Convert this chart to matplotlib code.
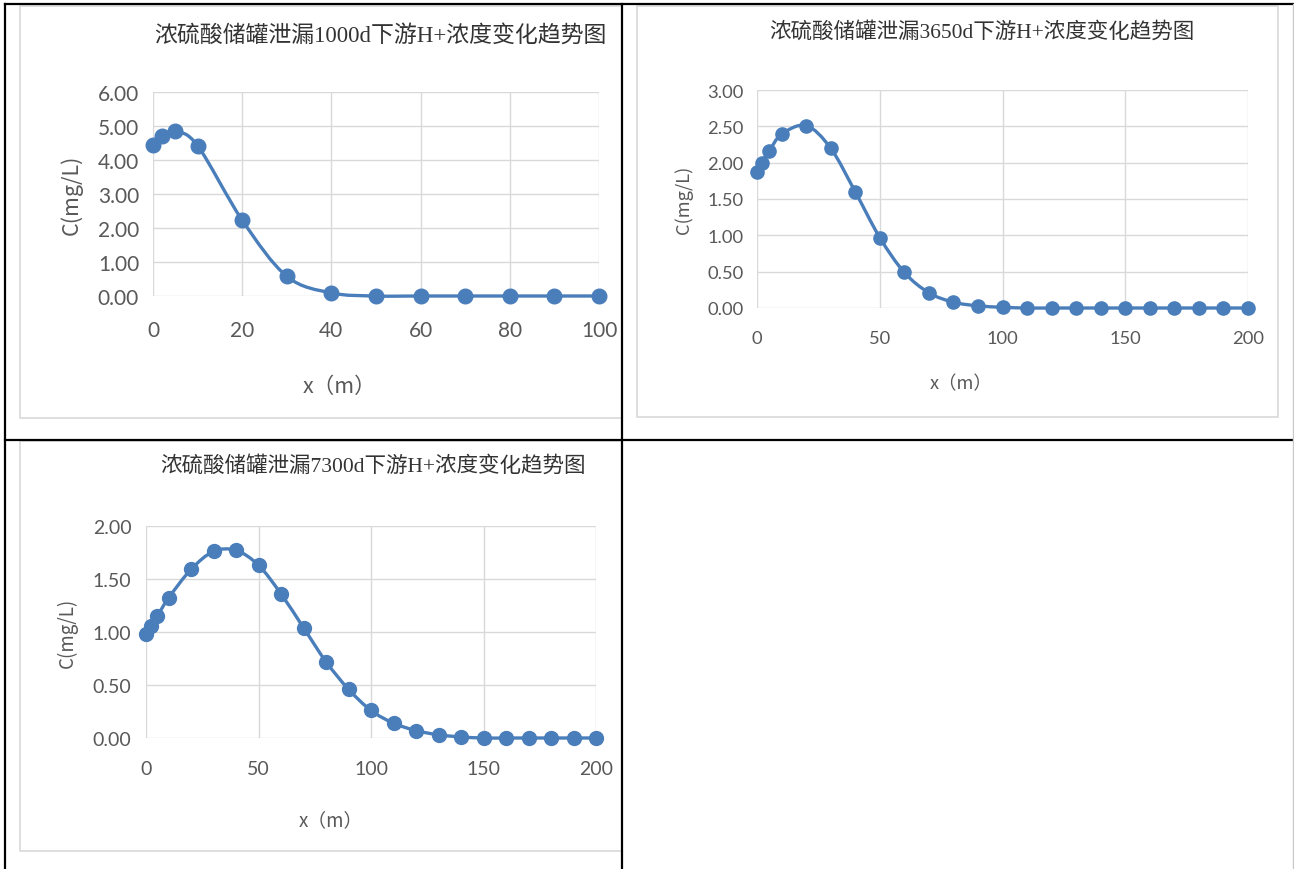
import matplotlib
matplotlib.use("Agg")
import matplotlib.pyplot as plt
from matplotlib.path import Path
from matplotlib.patches import PathPatch, Rectangle
from matplotlib.lines import Line2D

# ---- data ----
x_1000 = [0, 2, 5, 10, 20, 30, 40, 50, 60, 70, 80, 90, 100]
c_1000 = [4.45, 4.70, 4.84, 4.42, 2.23, 0.58, 0.09, 0.00, 0.00, 0.00, 0.00, 0.00, 0.00]

x_3650 = [0, 2, 5, 10, 20, 30, 40, 50, 60, 70, 80, 90, 100,
          110, 120, 130, 140, 150, 160, 170, 180, 190, 200]
c_3650 = [1.87, 2.00, 2.16, 2.39, 2.51, 2.20, 1.60, 0.97, 0.49, 0.21, 0.08, 0.03, 0.01,
          0.00, 0.00, 0.00, 0.00, 0.00, 0.00, 0.00, 0.00, 0.00, 0.00]

x_7300 = [0, 2, 5, 10, 20, 30, 40, 50, 60, 70, 80, 90, 100,
          110, 120, 130, 140, 150, 160, 170, 180, 190, 200]
c_7300 = [0.98, 1.06, 1.15, 1.32, 1.59, 1.76, 1.77, 1.63, 1.36, 1.04, 0.72, 0.46, 0.26,
          0.14, 0.07, 0.03, 0.01, 0.00, 0.00, 0.00, 0.00, 0.00, 0.00]

titles = ["浓硫酸储罐泄漏1000d下游H+浓度变化趋势图",
          "浓硫酸储罐泄漏3650d下游H+浓度变化趋势图",
          "浓硫酸储罐泄漏7300d下游H+浓度变化趋势图"]
y_label = "C(mg/L)"
x_label = "x（m）"

W, H = 1294, 870
fig = plt.figure(figsize=(W / 100, H / 100), dpi=100)
fig.patch.set_facecolor("white")

BLUE = "#4a7ebb"
GRID = "#d9d9d9"
TXT = "#595959"
TITLE_FONT = ["Liberation Serif", "Noto Sans CJK SC"]
LABEL_FONT = ["Noto Sans CJK SC", "DejaVu Sans"]
TICK_FONT = ["Lato", "DejaVu Sans"]


def fx(px):
    return px / W


def fy(py):
    return 1 - py / H


def smooth_path(xs, ys):
    """Bezier path through the points (Catmull-Rom style smoothing)."""
    n = len(xs)
    verts = [(xs[0], ys[0])]
    codes = [Path.MOVETO]
    for i in range(n - 1):
        x0, y0 = xs[max(i - 1, 0)], ys[max(i - 1, 0)]
        x1, y1 = xs[i], ys[i]
        x2, y2 = xs[i + 1], ys[i + 1]
        x3, y3 = xs[min(i + 2, n - 1)], ys[min(i + 2, n - 1)]
        c1 = (x1 + (x2 - x0) / 6, y1 + (y2 - y0) / 6)
        c2 = (x2 - (x3 - x1) / 6, y2 - (y3 - y1) / 6)
        verts += [c1, c2, (x2, y2)]
        codes += [Path.CURVE4] * 3
    return Path(verts, codes)


def panel(box, plot, xs, ys, xmax, xstep, ymax, ystep, title, title_pos,
          ylab_pos, xlab_pos, fs_title, fs_tick, fs_label, ms, ypad, xpad):
    # chart frame
    bl, bt, br, bb = box
    fig.add_artist(Rectangle((fx(bl), fy(bb)), fx(br - bl), (bb - bt) / H,
                             transform=fig.transFigure, fill=False,
                             edgecolor=GRID, linewidth=1.2))
    l, t, r, b = plot
    ax = fig.add_axes([fx(l), fy(b), fx(r - l), (b - t) / H])
    ax.set_xlim(0, xmax)
    ax.set_ylim(0, ymax)
    xt = list(range(0, xmax + 1, xstep))
    ax.set_xticks(xt)
    ax.set_xticklabels([str(v) for v in xt])
    nyt = int(round(ymax / ystep))
    yt = [i * ystep for i in range(nyt + 1)]
    ax.set_yticks(yt)
    ax.set_yticklabels([f"{v:.2f}" for v in yt])
    for s in ax.spines.values():
        s.set_visible(False)
    ax.grid(True, color=GRID, linewidth=1.0)
    ax.set_axisbelow(True)
    ax.tick_params(length=0, colors=TXT, labelsize=fs_tick)
    ax.tick_params(axis="y", pad=ypad)
    ax.tick_params(axis="x", pad=xpad)
    for lab in ax.get_xticklabels() + ax.get_yticklabels():
        lab.set_family(TICK_FONT)
    ax.add_patch(PathPatch(smooth_path(xs, ys), fill=False, edgecolor=BLUE,
                           linewidth=2.4, clip_on=False, zorder=3))
    ax.plot(xs, ys, linestyle="none", marker="o", markersize=ms, color=BLUE,
            clip_on=False, zorder=4)
    fig.text(fx(title_pos[0]), fy(title_pos[1]), title, ha="center", va="center",
             fontsize=fs_title, color="#333333", family=TITLE_FONT)
    fig.text(fx(ylab_pos[0]), fy(ylab_pos[1]), y_label, ha="center", va="center",
             rotation=90, fontsize=fs_label, color=TXT, family=LABEL_FONT)
    fig.text(fx(xlab_pos[0]), fy(xlab_pos[1]), x_label, ha="center", va="center",
             fontsize=fs_label, color=TXT, family=LABEL_FONT)
    return ax


panel((20, 6.5, 622, 419), (153, 93, 599, 297), x_1000, c_1000, 100, 20, 6.0, 1.0,
      titles[0], (380, 36), (71, 195), (339, 387), 16.5, 15, 15.5, 10.5, 10, 17)
panel((637, 6.5, 1278, 418), (757, 91, 1248, 309), x_3650, c_3650, 200, 50, 3.0, 0.5,
      titles[1], (982, 32), (684, 200), (961, 384), 15.5, 13.2, 13.2, 9.5, 9.5, 16)
panel((20, 442, 622, 852), (146, 527, 596, 739), x_7300, c_7300, 200, 50, 2.0, 0.5,
      titles[2], (373, 466), (67, 633), (331, 821), 15.5, 14, 13.5, 10, 10.5, 16)

# table rules
def hline(y, x0, x1, color="black", lw=1.6):
    fig.add_artist(Line2D([fx(x0), fx(x1)], [fy(y), fy(y)], color=color,
                          linewidth=lw, transform=fig.transFigure))


def vline(x, y0, y1, color="black", lw=1.6):
    fig.add_artist(Line2D([fx(x), fx(x)], [fy(y0), fy(y1)], color=color,
                          linewidth=lw, transform=fig.transFigure))


hline(4.5, 4.5, 1294)
hline(440.5, 4.5, 1294)
vline(5, 4.5, 870)
vline(622, 4.5, 870)
vline(1293, 4.5, 870, color="#c8c8c8", lw=1.0)

fig.savefig("out.png", dpi=100, facecolor="white")
